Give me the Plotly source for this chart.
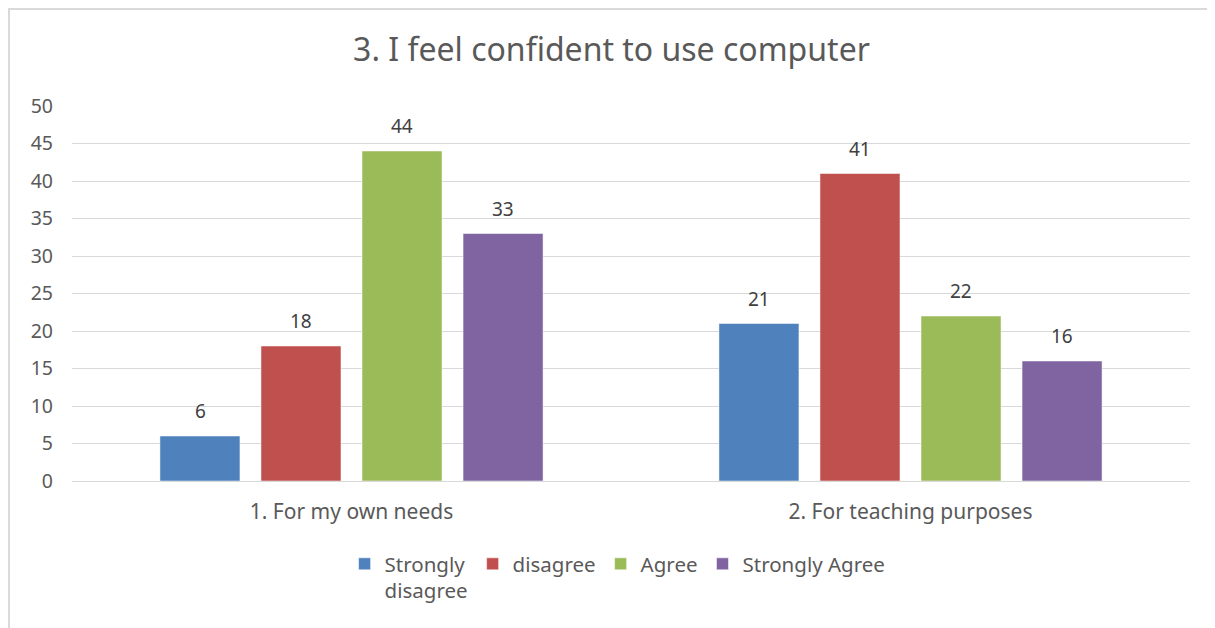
import plotly.graph_objects as go

CATEGORIES = ["1. For my own needs", "2. For teaching purposes"]
SERIES_NAMES = ["Strongly<br>disagree", "disagree", "Agree", "Strongly Agree"]
SERIES_VALUES = [
    [6, 21],
    [18, 41],
    [44, 22],
    [33, 16],
]
COLORS = ["#4F81BD", "#C0504D", "#9BBB59", "#8064A2"]
Y_TICKS = list(range(0, 55, 5))

FONT = "Noto Sans, Open Sans, sans-serif"
TEXT_COLOR = "#595959"
SLOT_PX = 101  # pixel width of one bar slot inside a group

fig = go.Figure()
for i, (name, vals, color) in enumerate(zip(SERIES_NAMES, SERIES_VALUES, COLORS)):
    fig.add_trace(
        go.Bar(
            x=CATEGORIES,
            y=vals,
            name=name,
            marker_color=color,
        )
    )
    # value labels sit a bit higher above the bars than plotly's own text
    for cat, v in zip(CATEGORIES, vals):
        fig.add_annotation(
            x=cat,
            y=v,
            text=str(v),
            showarrow=False,
            xshift=(i - 1.5) * SLOT_PX,
            yshift=25,
            yanchor="middle",
            font=dict(size=19, color="#404040", family=FONT),
        )

# the page body has an 8px margin, so the figure is drawn 8px smaller
fig.update_layout(
    width=1207,
    height=620,
    template="plotly_white",
    barmode="group",
    bargap=0.277,
    bargroupgap=0.208,
    margin=dict(l=64, r=25, t=98, b=147),
    paper_bgcolor="white",
    plot_bgcolor="white",
    font=dict(family=FONT, color=TEXT_COLOR),
    title=dict(
        text="3. I feel confident to use computer",
        x=0.5,
        xanchor="center",
        y=0.932,
        yanchor="middle",
        font=dict(size=32, color=TEXT_COLOR, family=FONT),
    ),
    legend=dict(
        orientation="h",
        x=0.488,
        xanchor="center",
        y=-0.168,
        yanchor="top",
        valign="top",
        font=dict(size=20.5, color=TEXT_COLOR, family=FONT),
        itemwidth=30,
        traceorder="normal",
    ),
    showlegend=True,
)

fig.update_yaxes(
    range=[0, 50],
    tickvals=Y_TICKS,
    gridcolor="#D9D9D9",
    gridwidth=1,
    zeroline=False,
    showline=False,
    tickfont=dict(size=19.5, color=TEXT_COLOR, family=FONT),
    ticklabelstandoff=18,
)
fig.update_xaxes(
    showline=True,
    linecolor="#D9D9D9",
    linewidth=1,
    tickfont=dict(size=21, color=TEXT_COLOR, family=FONT),
    ticks="",
    ticklabelstandoff=12,
)

# outer chart border
fig.add_shape(
    type="rect",
    xref="paper",
    yref="paper",
    x0=-0.0563,
    x1=1.03,
    y0=-0.42,
    y1=1.259,
    line=dict(color="#D9D9D9", width=2),
    layer="below",
)

fig.write_html("out.html")
